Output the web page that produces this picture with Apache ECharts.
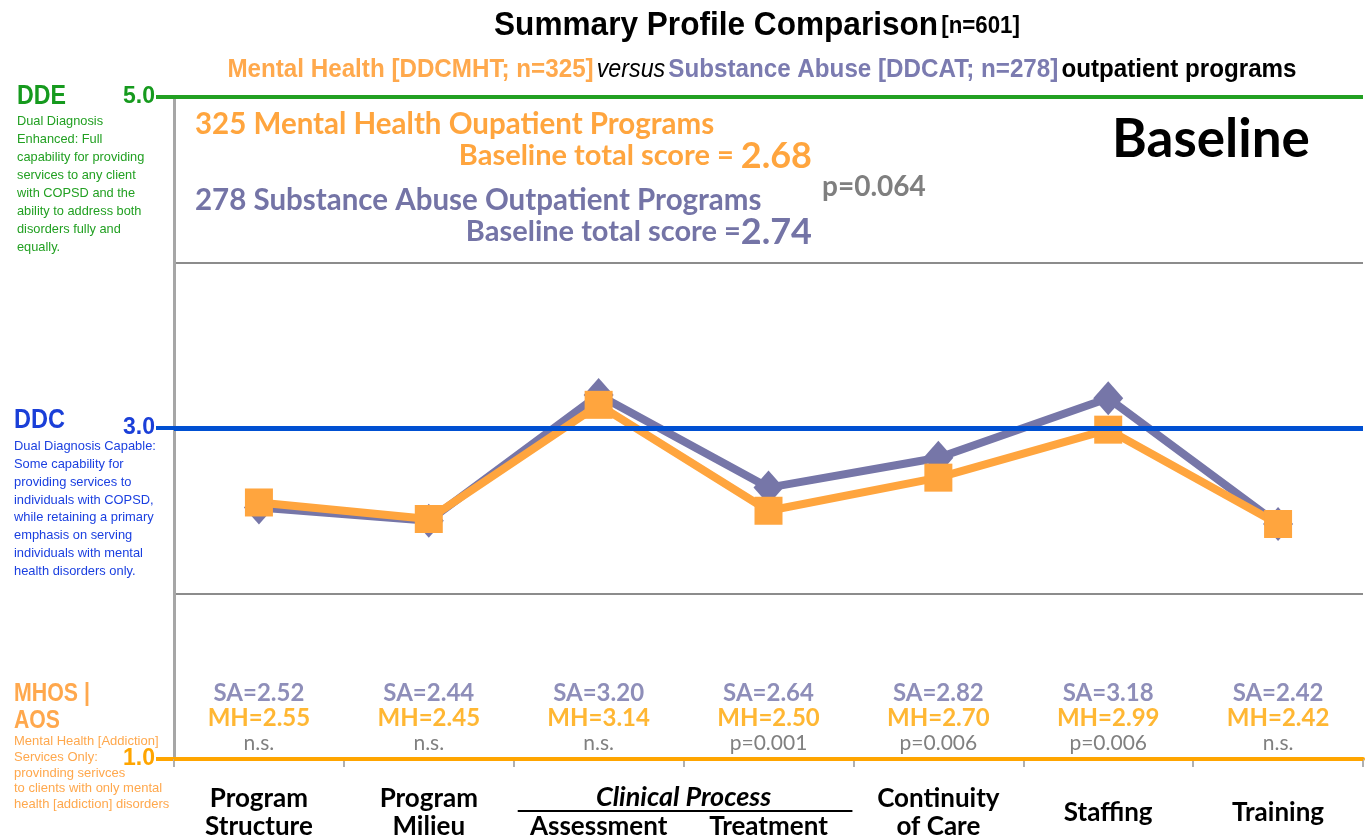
<!DOCTYPE html>
<html>
<head>
<meta charset="utf-8">
<script src="https://cdn.jsdelivr.net/npm/echarts@6/dist/echarts.min.js"></script>
<style>
  html, body { margin: 0; padding: 0; background: #fff; }
  #chart { width: 1366px; height: 837px; }
</style>
</head>
<body>
<div id="chart"></div>
<script>
// domains of the profile, x axis
const categories = ['Program\nStructure', 'Program\nMilieu', '\nAssessment', '\nTreatment', 'Continuity\nof Care', 'Staffing', 'Training'];
// baseline scores
const saScores = [2.52, 2.44, 3.20, 2.64, 2.82, 3.18, 2.42];
const mhScores = [2.55, 2.45, 3.14, 2.50, 2.70, 2.99, 2.42];
const pValues = ['n.s.', 'n.s.', 'n.s.', 'p=0.001', 'p=0.006', 'p=0.006', 'n.s.'];
// capability levels (DDE / DDC / MHOS|AOS)
const levelValues = [5, 3, 1];
const levelColors = ['#22a022', '#0050d2', '#ffa500'];
const levelTextColors = ['#169a1e', '#1a3fd8', '#ffa500'];
const labelRowValue = 1.25; // where the SA/MH value block sits

const arial = '"Liberation Sans", Arial, sans-serif';
const calibri = 'Lato, "Open Sans", sans-serif';

// arial narrow is not installed: squeeze Liberation Sans instead
const measureCtx = document.createElement('canvas').getContext('2d');
function widthOf(parts) {
  let w = 0;
  parts.forEach(p => { measureCtx.font = p[1]; w += measureCtx.measureText(p[0]).width; });
  return w;
}

const chart = echarts.init(document.getElementById('chart'));

const levelAxes = levelValues.map((v, i) => ({
  type: 'value',
  min: 1,
  max: 5,
  position: 'left',
  axisLine: { show: false },
  splitLine: { show: false },
  axisTick: { show: true, customValues: [v], length: 18, lineStyle: { color: levelColors[i], width: 4 } },
  axisLabel: {
    show: true,
    customValues: [v],
    formatter: val => val.toFixed(1),
    margin: 19,
    color: levelTextColors[i],
    fontSize: 23,
    fontWeight: 'bold',
    fontFamily: arial
  }
}));

const option = {
  animation: false,
  grid: { left: 174, right: 3, top: 97, bottom: 78, containLabel: false, outerBoundsMode: 'none' },
  xAxis: {
    type: 'category',
    data: categories,
    boundaryGap: true,
    axisLine: { show: true, lineStyle: { color: '#ffa500', width: 4 } },
    axisTick: { show: true, interval: 0, length: 8, lineStyle: { color: '#b0b0b0', width: 2 } },
    axisLabel: {
      interval: 0,
      hideOverlap: false,
      color: '#000',
      fontFamily: calibri,
      fontWeight: 'bold',
      fontSize: 26,
      lineHeight: 28,
      margin: 54,
      verticalAlign: 'middle'
    }
  },
  yAxis: [
    {
      type: 'value',
      min: 1,
      max: 5,
      interval: 1,
      axisLine: { show: true, lineStyle: { color: '#a6a6a6', width: 3 } },
      axisTick: { show: false },
      axisLabel: { show: false },
      splitLine: { show: true, lineStyle: { color: '#8c8c8c', width: 2 } }
    }
  ].concat(levelAxes),
  series: [
    {
      name: 'levels',
      type: 'line',
      data: [],
      z: 1,
      markLine: {
        silent: true,
        symbol: 'none',
        label: { show: false },
        data: levelValues.map((v, i) => ({
          yAxis: v,
          lineStyle: { color: levelColors[i], width: v === 3 ? 5 : 4, type: 'solid' }
        }))
      }
    },
    {
      name: 'Substance Abuse',
      type: 'line',
      data: saScores,
      z: 3,
      symbol: 'diamond',
      symbolSize: [30, 34],
      lineStyle: { color: '#7676a8', width: 8 },
      itemStyle: { color: '#7676a8' }
    },
    {
      name: 'Mental Health',
      type: 'line',
      data: mhScores,
      z: 4,
      symbol: 'rect',
      symbolSize: 28,
      lineStyle: { color: '#ffa53e', width: 8 },
      itemStyle: { color: '#ffa53e' }
    },
    {
      name: 'values',
      type: 'scatter',
      symbolSize: 0,
      z: 5,
      data: categories.map((c, i) => [i, labelRowValue]),
      label: {
        show: true,
        position: 'inside',
        formatter: p => '{sa|SA=' + saScores[p.dataIndex].toFixed(2) + '}\n{mh|MH=' +
          mhScores[p.dataIndex].toFixed(2) + '}\n{p|' + pValues[p.dataIndex] + '}',
        rich: {
          sa: { color: '#7272a8', fontSize: 24, fontWeight: 'bold', fontFamily: calibri, lineHeight: 26 },
          mh: { color: '#ffa500', fontSize: 24, fontWeight: 'bold', fontFamily: calibri, lineHeight: 25 },
          p: { color: '#606060', fontSize: 21, fontFamily: calibri, lineHeight: 24 }
        }
      }
    }
  ]
};

chart.setOption(option);

// clinical process header spans the Assessment and Treatment columns
const c2 = chart.convertToPixel({ xAxisIndex: 0 }, 2);
const c3 = chart.convertToPixel({ xAxisIndex: 0 }, 3);
const band = c3 - c2;

function txt(text, x, y, font, fill, align) {
  return { type: 'text', x: x, y: y, silent: true, style: { text: text, font: font, fill: fill, align: align || 'left', verticalAlign: 'middle' } };
}
function block(lines, x, y, size, lh, fill) {
  return {
    type: 'text', x: x, y: y, silent: true,
    style: { text: lines.join('\n'), fontFamily: arial, fontSize: size, lineHeight: lh, fill: fill, align: 'left', verticalAlign: 'middle' }
  };
}
function narrowTxt(text, x, y, size, fill, target) {
  const font = 'bold ' + size + 'px ' + arial;
  const s = target / widthOf([[text, font]]);
  return { type: 'text', x: x, y: y, scaleX: s, silent: true, style: { text: text, font: font, fill: fill, align: 'left', verticalAlign: 'middle' } };
}

const descGreen = ['Dual Diagnosis', 'Enhanced: Full', 'capability for providing', 'services to any client',
  'with COPSD and the', 'ability to address both', 'disorders fully and', 'equally.'];
const descBlue = ['Dual Diagnosis Capable:', 'Some capability for', 'providing services to', 'individuals with COPSD,',
  'while retaining a primary', 'emphasis on serving', 'individuals with mental', 'health disorders only.'];
const descOrange = ['Mental Health [Addiction]', 'Services Only:', 'provinding serivces',
  'to clients with only mental', 'health [addiction] disorders'];

const fTitle = 'bold 34px ' + arial, fTitleN = 'bold 24px ' + arial;
const titleScale = 529 / widthOf([['Summary Profile Comparison', fTitle], [' ', fTitleN], ['[n=601]', fTitleN]]);
const fSub = 'bold 26px ' + arial, fSubI = 'italic 25px ' + arial;
const subScale = 1080 / widthOf([['Mental Health [DDCMHT; n=325]', fSub], [' ', fSub], ['versus', fSubI], [' ', fSub],
  ['Substance Abuse [DDCAT; n=278]', fSub], [' ', fSub], ['outpatient programs', fSub]]);

chart.setOption({
  graphic: [
    {
      type: 'text', x: 757, y: 26, scaleX: titleScale, silent: true,
      style: {
        text: '{a|Summary Profile Comparison} {b|[n=601]}',
        align: 'center', verticalAlign: 'middle',
        rich: {
          a: { fontFamily: arial, fontWeight: 'bold', fontSize: 34, fill: '#000' },
          b: { fontFamily: arial, fontWeight: 'bold', fontSize: 24, fill: '#000' }
        }
      }
    },
    {
      type: 'text', x: 762, y: 70, scaleX: subScale, silent: true,
      style: {
        text: '{o|Mental Health [DDCMHT; n=325]} {v|versus} {s|Substance Abuse [DDCAT; n=278]} {k|outpatient programs}',
        align: 'center', verticalAlign: 'middle',
        rich: {
          o: { fontFamily: arial, fontWeight: 'bold', fontSize: 26, fill: '#ffa94d' },
          v: { fontFamily: arial, fontStyle: 'italic', fontSize: 25, fill: '#000' },
          s: { fontFamily: arial, fontWeight: 'bold', fontSize: 26, fill: '#7b7bb0' },
          k: { fontFamily: arial, fontWeight: 'bold', fontSize: 26, fill: '#000' }
        }
      }
    },
    narrowTxt('DDE', 17, 96, 28, '#169a1e', 49),
    block(descGreen, 17, 184, 12.8, 18, '#22a022'),
    narrowTxt('DDC', 14, 420, 28, '#1a3fd8', 51),
    block(descBlue, 14, 509, 12.9, 17.9, '#1a3fe0'),
    narrowTxt('MHOS |', 14, 694, 26, '#ffa84d', 76),
    narrowTxt('AOS', 14, 721, 26, '#ffa84d', 46),
    block(descOrange, 14, 773, 13, 15.8, '#ffa84d'),
    txt('325 Mental Health Oupatient Programs', 195, 124, 'bold 29.5px ' + calibri, '#ffa53e'),
    {
      type: 'text', x: 812, y: 156, silent: true,
      style: {
        text: '{a|Baseline total score = }{b|2.68}', align: 'right', verticalAlign: 'middle',
        rich: {
          a: { fontFamily: calibri, fontWeight: 'bold', fontSize: 29, fill: '#ffa53e' },
          b: { fontFamily: calibri, fontWeight: 'bold', fontSize: 36, fill: '#ffa53e' }
        }
      }
    },
    txt('278 Substance Abuse Outpatient Programs', 195, 200, 'bold 29.5px ' + calibri, '#7474a6'),
    {
      type: 'text', x: 812, y: 232, silent: true,
      style: {
        text: '{a|Baseline total score =}{b|2.74}', align: 'right', verticalAlign: 'middle',
        rich: {
          a: { fontFamily: calibri, fontWeight: 'bold', fontSize: 29, fill: '#7474a6' },
          b: { fontFamily: calibri, fontWeight: 'bold', fontSize: 36, fill: '#7474a6' }
        }
      }
    },
    txt('p=0.064', 822, 187, 'bold 28px ' + calibri, '#7f7f7f'),
    txt('Baseline', 1211, 140, 'bold 53px ' + calibri, '#000', 'center'),
    txt('Clinical Process', (c2 + c3) / 2, 797, 'italic bold 27px ' + calibri, '#000', 'center'),
    {
      type: 'line', silent: true,
      shape: { x1: c2 - band / 2 + 4, y1: 811, x2: c3 + band / 2 - 1, y2: 811 },
      style: { stroke: '#000', lineWidth: 2 }
    }
  ]
});
</script>
</body>
</html>
